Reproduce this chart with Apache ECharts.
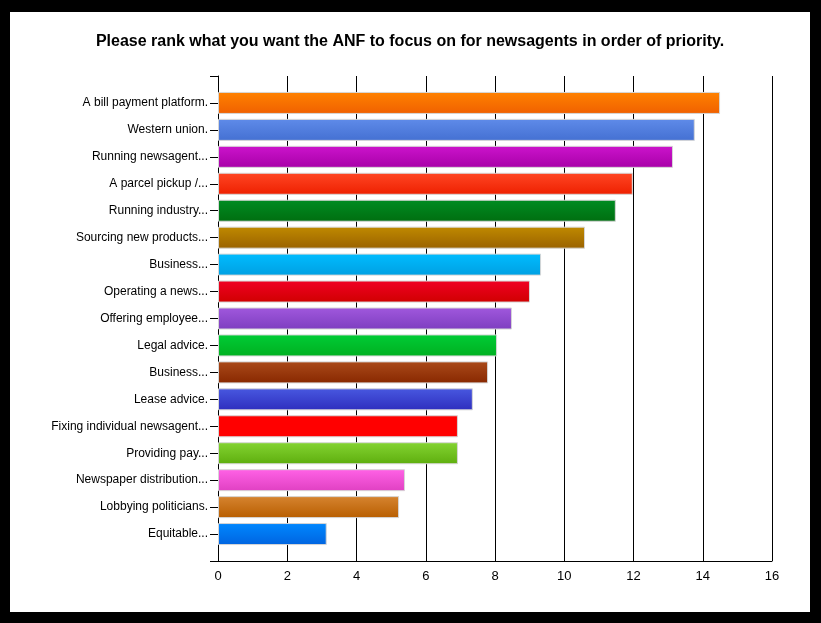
<!DOCTYPE html>
<html>
<head>
<meta charset="utf-8">
<script src="https://cdn.jsdelivr.net/npm/echarts@6/dist/echarts.min.js"></script>
<style>
  html, body { margin: 0; padding: 0; background: #000; }
  #chart { position: absolute; left: 10px; top: 12px; width: 800px; height: 600px; background: #fff; }
</style>
</head>
<body>
<div id="chart"></div>
<script>
const categories = [
  'A bill payment platform.',
  'Western union.',
  'Running newsagent...',
  'A parcel pickup /...',
  'Running industry...',
  'Sourcing new products...',
  'Business...',
  'Operating a news...',
  'Offering employee...',
  'Legal advice.',
  'Business...',
  'Lease advice.',
  'Fixing individual newsagent...',
  'Providing pay...',
  'Newspaper distribution...',
  'Lobbying politicians.',
  'Equitable...'
];
const values = [14.5, 13.77, 13.14, 11.98, 11.49, 10.6, 9.33, 9.01, 8.49, 8.06, 7.8, 7.36, 6.93, 6.93, 5.4, 5.23, 3.14];
const xTicks = { min: 0, max: 16, interval: 2 };

// top / bottom of each bar's vertical gradient
const topColors = ['#ff8200', '#5f8be9', '#cc14cc', '#ff4624', '#008c22', '#c08a00', '#00bcff', '#f00024', '#a058dd', '#00cc36', '#aa4a1a', '#4858e0', '#ff0000', '#84d432', '#ff62e6', '#d68430', '#0088ff'];
const bottomColors = ['#f06000', '#4470d2', '#a800a8', '#ee2000', '#006e10', '#9a6200', '#00a0e2', '#d00000', '#7e3ec0', '#00b020', '#882800', '#2e2ebe', '#ff0000', '#5eae0e', '#e040c2', '#b85e00', '#0064e0'];

// pad an empty slot at each end so the axis runs half a row past the bars
const yData = [''].concat(categories, ['']);
const barData = [null].concat(values.map((v, i) => ({
  value: v,
  itemStyle: {
    color: new echarts.graphic.LinearGradient(0, 0, 0, 1, [
      { offset: 0, color: topColors[i] },
      { offset: 1, color: bottomColors[i] }
    ])
  }
})), [null]);

const chart = echarts.init(document.getElementById('chart'));
chart.setOption({
  backgroundColor: '#fff',
  animation: false,
  title: {
    text: 'Please rank what you want the ANF to focus on for newsagents in order of priority.',
    left: 'center',
    top: 17,
    textStyle: { fontFamily: 'Liberation Sans, Arial', fontSize: 16, fontWeight: 'bold', color: '#000' }
  },
  grid: { left: 208, right: 38, top: 64, bottom: 51, containLabel: false },
  xAxis: {
    type: 'value',
    min: xTicks.min,
    max: xTicks.max,
    interval: xTicks.interval,
    axisLine: { show: true, lineStyle: { color: '#000', width: 1 } },
    axisTick: { show: false },
    axisLabel: { color: '#000', fontFamily: 'Liberation Sans, Arial', fontSize: 13, margin: 9 },
    splitLine: { show: true, lineStyle: { color: '#000', width: 1 } }
  },
  yAxis: {
    type: 'category',
    inverse: true,
    boundaryGap: false,
    data: yData,
    axisLine: { show: true, lineStyle: { color: '#000', width: 1 } },
    axisTick: { show: true, length: 8, lineStyle: { color: '#000', width: 1 } },
    axisLabel: { color: '#000', fontFamily: 'Liberation Sans, Arial', fontSize: 12, margin: 10, interval: 0 },
    splitLine: { show: false }
  },
  series: [{
    type: 'bar',
    data: barData,
    barWidth: 22,
    itemStyle: { borderColor: '#d6d6d6', borderWidth: 1 }
  }]
});
</script>
</body>
</html>
